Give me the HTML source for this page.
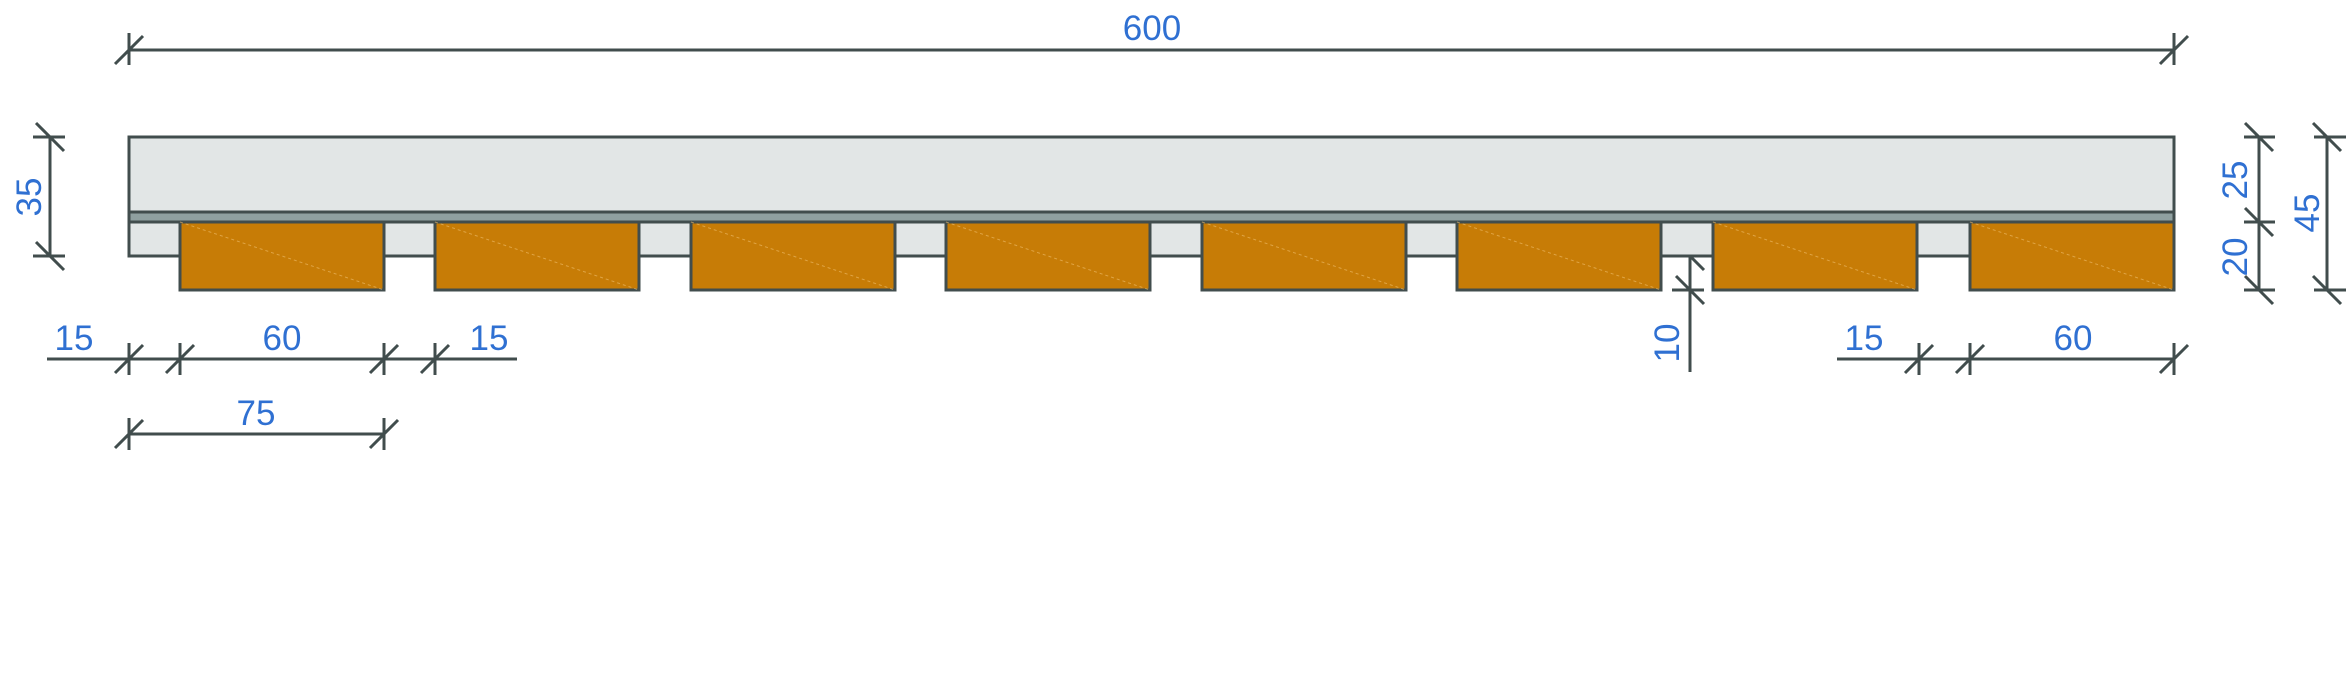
<!DOCTYPE html>
<html><head><meta charset="utf-8"><style>
html,body{margin:0;padding:0;background:#fff;}
svg{display:block;}
text{font-family:"Liberation Sans",sans-serif;font-size:35px;fill:#2f70d2;}
</style></head><body>
<svg width="2346" height="700" viewBox="0 0 2346 700" xmlns="http://www.w3.org/2000/svg">
<g stroke="#414d4d" stroke-width="3">
  <!-- panel -->
  <rect x="129" y="137" width="2045" height="75" fill="#e2e6e6"/>
  <rect x="129" y="212" width="2045" height="10" fill="#8fa0a0"/>
  <rect x="129" y="222" width="2045" height="34" fill="#e2e6e6"/>
  <!-- slats -->
  <g fill="#c77c06">
    <rect x="180" y="222" width="204" height="68"/>
    <rect x="435" y="222" width="204" height="68"/>
    <rect x="691" y="222" width="204" height="68"/>
    <rect x="946" y="222" width="204" height="68"/>
    <rect x="1202" y="222" width="204" height="68"/>
    <rect x="1457" y="222" width="204" height="68"/>
    <rect x="1713" y="222" width="204" height="68"/>
    <rect x="1970" y="222" width="204" height="68"/>
  </g>
</g>
<g stroke="#f0c070" stroke-width="1" stroke-dasharray="3,3" opacity="0.6">
  <line x1="180" y1="222" x2="384" y2="290"/><line x1="435" y1="222" x2="639" y2="290"/>
  <line x1="691" y1="222" x2="895" y2="290"/><line x1="946" y1="222" x2="1150" y2="290"/>
  <line x1="1202" y1="222" x2="1406" y2="290"/><line x1="1457" y1="222" x2="1661" y2="290"/>
  <line x1="1713" y1="222" x2="1917" y2="290"/><line x1="1970" y1="222" x2="2174" y2="290"/>
</g>
<g stroke="#414d4d" stroke-width="3" fill="none">
  <!-- 600 -->
  <line x1="129" y1="50" x2="2174" y2="50"/>
  <line x1="129" y1="33" x2="129" y2="65"/><line x1="115" y1="64" x2="143" y2="36"/>
  <line x1="2174" y1="33" x2="2174" y2="65"/><line x1="2160" y1="64" x2="2188" y2="36"/>
  <!-- 35 -->
  <line x1="50" y1="137" x2="50" y2="256"/>
  <line x1="33" y1="137" x2="65" y2="137"/><line x1="36" y1="123" x2="64" y2="151"/>
  <line x1="33" y1="256" x2="65" y2="256"/><line x1="36" y1="242" x2="64" y2="270"/>
  <!-- row1 left -->
  <line x1="47" y1="359" x2="517" y2="359"/>
  <line x1="129" y1="343" x2="129" y2="375"/><line x1="115" y1="373" x2="143" y2="345"/>
  <line x1="180" y1="343" x2="180" y2="375"/><line x1="166" y1="373" x2="194" y2="345"/>
  <line x1="384" y1="343" x2="384" y2="375"/><line x1="370" y1="373" x2="398" y2="345"/>
  <line x1="435" y1="343" x2="435" y2="375"/><line x1="421" y1="373" x2="449" y2="345"/>
  <!-- row2 75 -->
  <line x1="129" y1="434" x2="384" y2="434"/>
  <line x1="129" y1="418" x2="129" y2="450"/><line x1="115" y1="448" x2="143" y2="420"/>
  <line x1="384" y1="418" x2="384" y2="450"/><line x1="370" y1="448" x2="398" y2="420"/>
  <!-- row1 right -->
  <line x1="1837" y1="359" x2="2174" y2="359"/>
  <line x1="1919" y1="343" x2="1919" y2="375"/><line x1="1905" y1="373" x2="1933" y2="345"/>
  <line x1="1970" y1="343" x2="1970" y2="375"/><line x1="1956" y1="373" x2="1984" y2="345"/>
  <line x1="2174" y1="343" x2="2174" y2="375"/><line x1="2160" y1="373" x2="2188" y2="345"/>
  <!-- 10 -->
  <line x1="1690" y1="256" x2="1690" y2="372"/>
  <line x1="1690" y1="256" x2="1704" y2="270"/>
  <line x1="1672" y1="290" x2="1704" y2="290"/><line x1="1676" y1="276" x2="1704" y2="304"/>
  <!-- 25/20 -->
  <line x1="2259" y1="137" x2="2259" y2="290"/>
  <line x1="2244" y1="137" x2="2275" y2="137"/><line x1="2245" y1="123" x2="2273" y2="151"/>
  <line x1="2244" y1="222" x2="2275" y2="222"/><line x1="2245" y1="208" x2="2273" y2="236"/>
  <line x1="2244" y1="290" x2="2275" y2="290"/><line x1="2245" y1="276" x2="2273" y2="304"/>
  <!-- 45 -->
  <line x1="2327" y1="137" x2="2327" y2="290"/>
  <line x1="2314" y1="137" x2="2346" y2="137"/><line x1="2313" y1="123" x2="2341" y2="151"/>
  <line x1="2314" y1="290" x2="2346" y2="290"/><line x1="2313" y1="276" x2="2341" y2="304"/>
</g>
<g text-anchor="middle">
  <text x="1152" y="40">600</text>
  <text x="74" y="350">15</text>
  <text x="282" y="350">60</text>
  <text x="489" y="350">15</text>
  <text x="256" y="425">75</text>
  <text x="1864" y="350">15</text>
  <text x="2073" y="350">60</text>
  <text transform="translate(41,197) rotate(-90)">35</text>
  <text transform="translate(1679,343) rotate(-90)">10</text>
  <text transform="translate(2247,180) rotate(-90)">25</text>
  <text transform="translate(2247,257) rotate(-90)">20</text>
  <text transform="translate(2319,213) rotate(-90)">45</text>
</g>
</svg>
</body></html>
